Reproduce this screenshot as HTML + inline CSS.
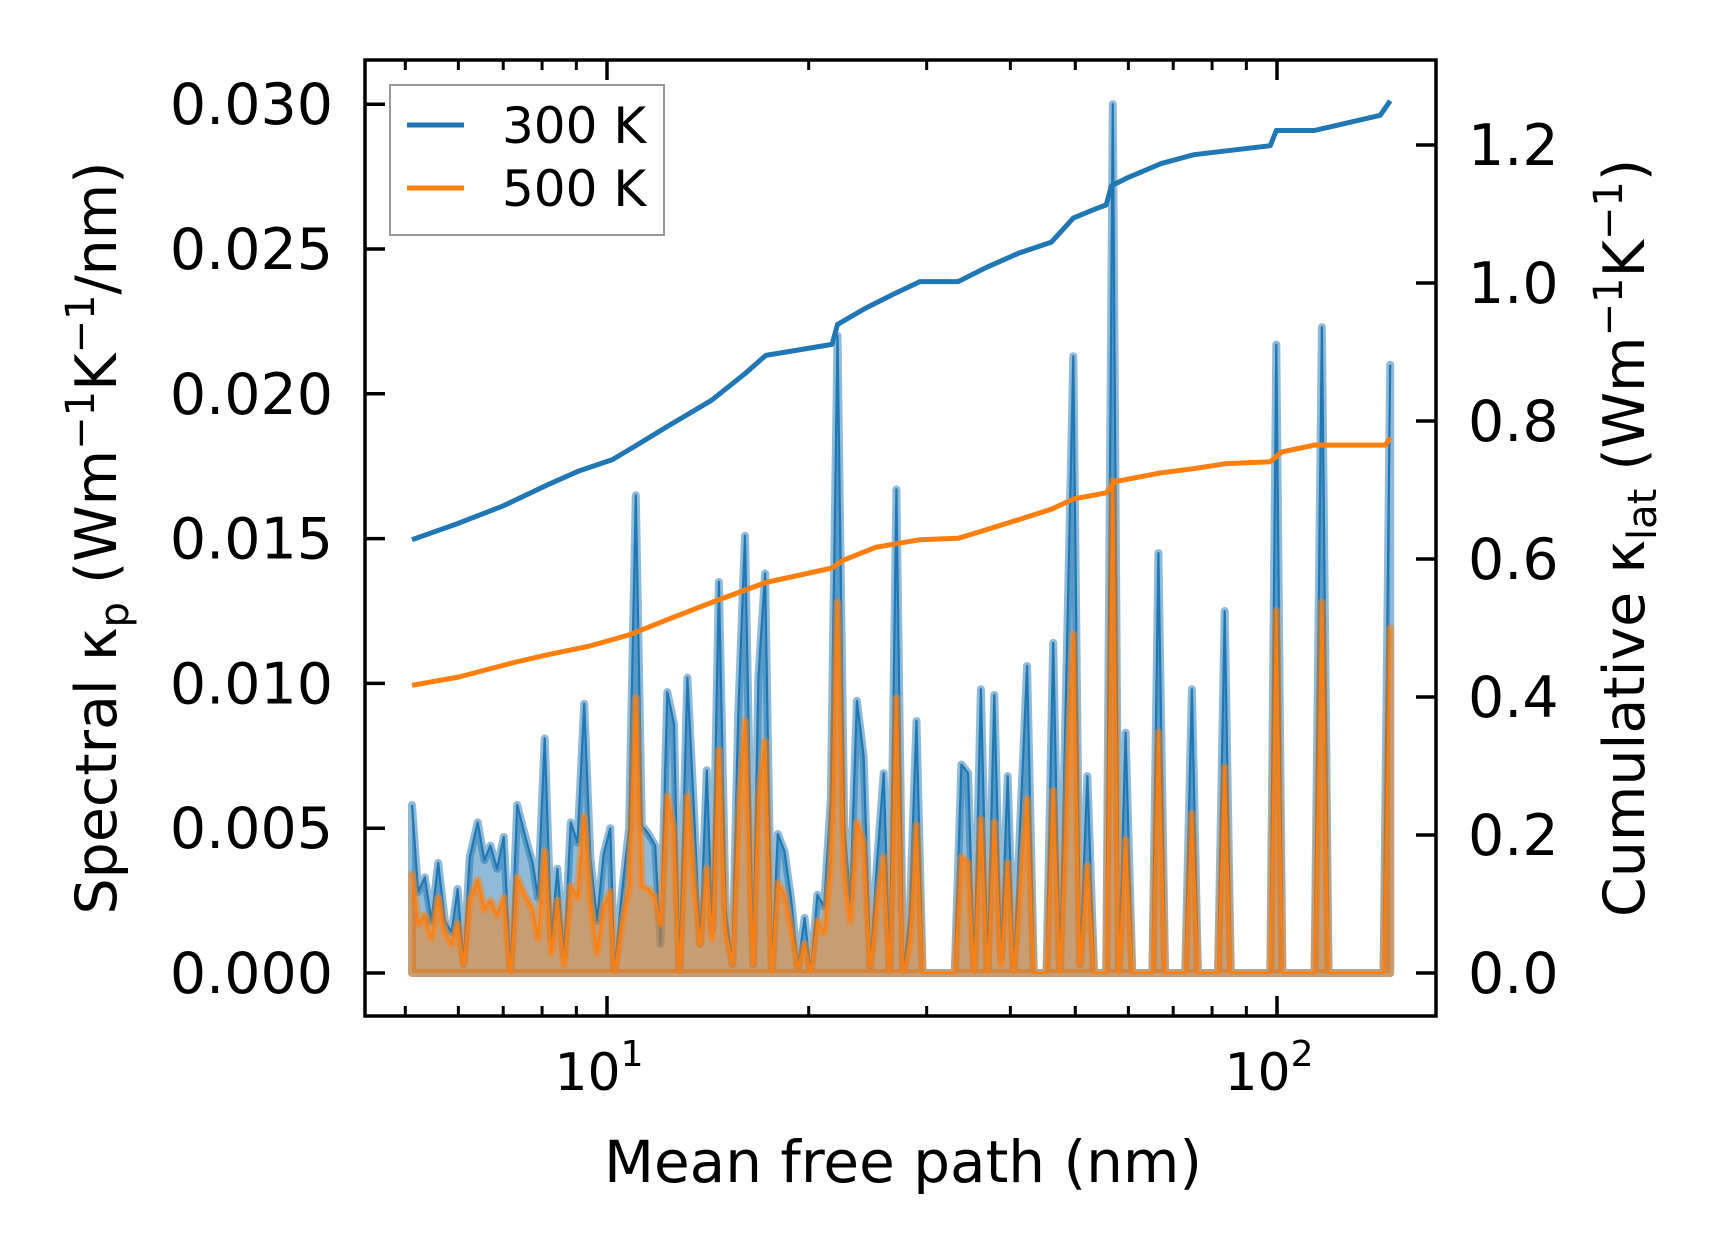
<!DOCTYPE html>
<html><head><meta charset="utf-8"><style>
html,body{margin:0;padding:0;background:#fff;}
svg{display:block;font-family:"DejaVu Sans","Liberation Sans",sans-serif;}
</style></head><body>
<svg id="chart" width="1716" height="1254" viewBox="0 0 1716 1254" xmlns="http://www.w3.org/2000/svg">
<rect width="1716" height="1254" fill="#fff"/>
<g id="plot"></g>
<g id="axes"></g>
<g>
<rect x="390" y="85" width="274" height="150" fill="#fff" fill-opacity="0.8" stroke="#999" stroke-width="2"/>
<line x1="407" y1="125" x2="464" y2="125" stroke="#1f77b4" stroke-width="5"/>
<text x="502" y="143" font-size="50">300 K</text>
<line x1="407" y1="188" x2="464" y2="188" stroke="#ff7f0e" stroke-width="5"/>
<text x="502" y="206" font-size="50">500 K</text>
</g>
<text x="903" y="1182" font-size="58" text-anchor="middle">Mean free path (nm)</text>
<text transform="translate(116,538) rotate(-90)" font-size="57" text-anchor="middle">Spectral κ<tspan font-size="40" dy="12">p</tspan><tspan dy="-12"> (Wm</tspan><tspan font-size="40" dy="-22">−1</tspan><tspan dy="22">K</tspan><tspan font-size="40" dy="-22">−1</tspan><tspan dy="22">/nm)</tspan></text>
<text transform="translate(1644,538) rotate(-90)" font-size="57" text-anchor="middle">Cumulative κ<tspan font-size="40" dy="12">lat</tspan><tspan dy="-12"> (Wm</tspan><tspan font-size="40" dy="-22">−1</tspan><tspan dy="22">K</tspan><tspan font-size="40" dy="-22">−1</tspan><tspan dy="22">)</tspan></text>
</svg>
<script>
// log10 of mean free path (nm) for spectral samples
const specLog = [0.709,0.718,0.728,0.738,0.748,0.758,0.768,0.777,0.786,0.795,0.807,0.817,0.826,0.836,0.846,0.856,0.866,0.877,0.889,0.897,0.907,0.917,0.926,0.936,0.946,0.956,0.966,0.975,0.985,0.995,1.005,1.011,1.021,1.033,1.043,1.052,1.062,1.072,1.080,1.090,1.100,1.108,1.120,1.129,1.139,1.149,1.157,1.167,1.177,1.187,1.196,1.206,1.218,1.226,1.236,1.246,1.255,1.265,1.275,1.285,1.295,1.304,1.314,1.324,1.334,1.344,1.354,1.363,1.373,1.383,1.393,1.403,1.413,1.422,1.432,1.442,1.452,1.462,1.471,1.519,1.529,1.539,1.548,1.558,1.568,1.578,1.588,1.598,1.607,1.627,1.637,1.656,1.666,1.676,1.696,1.706,1.717,1.727,1.745,1.755,1.764,1.774,1.784,1.814,1.823,1.833,1.863,1.873,1.882,1.912,1.922,1.931,1.990,1.999,2.008,2.056,2.067,2.077,2.159,2.169];
// spectral kappa in units of 1e-3 W/mK/nm
const spec300 = [5.8,2.8,3.3,1.8,3.8,1.8,1.4,2.9,0.3,4.0,5.2,3.9,4.4,3.6,4.7,0.0,5.8,4.8,3.8,2.6,8.1,1.2,3.6,0.6,5.2,4.5,9.3,4.0,1.8,4.1,5.0,0.0,2.5,5.0,16.5,5.1,4.8,4.4,1.0,9.7,8.6,0.0,10.2,6.0,1.0,7.0,1.5,13.5,2.2,0.3,9.0,15.1,0.3,10.2,13.8,0.0,4.8,4.2,2.5,0.2,1.9,0.0,2.7,2.3,6.0,22.0,5.1,2.5,9.4,7.5,0.2,3.8,6.9,0.0,16.7,0.0,2.0,8.7,0.0,0.0,7.2,6.9,0.0,9.8,0.0,9.6,0.5,6.8,0.0,10.6,0.0,0.0,11.4,0.0,21.3,0.3,6.8,0.0,0.0,30.0,0.0,8.3,0.0,0.0,14.5,0.0,0.0,9.8,0.0,0.0,12.5,0.0,0.0,21.7,0.0,0.0,22.3,0.0,0.0,21.0];
const spec500 = [3.4,1.7,2.0,1.2,2.6,1.4,1.0,1.7,0.3,2.5,3.2,2.2,2.5,2.0,2.6,0.0,3.3,2.7,2.2,1.2,4.2,0.7,2.5,0.3,3.0,2.6,5.4,2.5,0.7,2.3,2.8,0.0,1.5,3.0,9.5,3.0,2.9,2.6,1.7,6.1,4.9,0.0,6.1,3.3,1.0,3.6,1.2,7.7,1.5,0.3,5.2,8.7,0.3,6.0,8.0,0.0,3.1,2.7,1.5,0.2,1.0,0.0,1.8,1.4,3.7,12.8,3.5,1.8,5.2,4.5,0.2,2.4,4.0,0.0,9.5,0.0,1.0,5.1,0.0,0.0,4.0,3.8,0.0,5.3,0.0,5.2,0.3,3.8,0.0,6.0,0.0,0.0,6.3,0.0,11.7,0.3,3.7,0.0,0.0,17.0,0.0,4.6,0.0,0.0,8.3,0.0,0.0,5.5,0.0,0.0,7.1,0.0,0.0,12.5,0.0,0.0,12.8,0.0,0.0,11.9];
// cumulative kappa (W/mK)
const cum300Log = [0.709,0.779,0.845,0.910,0.959,1.008,1.041,1.090,1.156,1.205,1.237,1.336,1.344,1.385,1.426,1.467,1.524,1.565,1.614,1.663,1.696,1.728,1.745,1.753,1.778,1.827,1.876,1.990,1.999,2.056,2.154,2.169];
const cum300 = [0.628,0.652,0.677,0.707,0.728,0.744,0.763,0.792,0.830,0.868,0.895,0.911,0.940,0.963,0.983,1.002,1.002,1.022,1.043,1.059,1.094,1.107,1.113,1.141,1.153,1.173,1.186,1.199,1.221,1.221,1.243,1.264];
const cum500Log = [0.709,0.779,0.861,0.910,0.975,1.033,1.090,1.156,1.237,1.336,1.352,1.401,1.467,1.524,1.565,1.614,1.663,1.696,1.745,1.758,1.827,1.876,1.922,1.990,2.007,2.056,2.162,2.169];
const cum500 = [0.417,0.429,0.450,0.461,0.474,0.490,0.512,0.537,0.566,0.587,0.598,0.617,0.628,0.630,0.642,0.657,0.672,0.687,0.696,0.712,0.725,0.731,0.738,0.741,0.755,0.765,0.765,0.776];
const leftTicks = ["0.000","0.005","0.010","0.015","0.020","0.025","0.030"];
const rightTicks = ["0.0","0.2","0.4","0.6","0.8","1.0","1.2"];

const L=365,R=1436,T=60,B=1016;
const X0=607, DEC=670;
function xs(e){return X0+(e-1)*DEC;}
function yl(v){return 973 - v/0.005*144.8;} // v in W/mK/nm
function yr(v){return 973 - v*690;}
const NS='http://www.w3.org/2000/svg';
function mk(tag,attrs,parent){const el=document.createElementNS(NS,tag);for(const k in attrs)el.setAttribute(k,attrs[k]);parent.appendChild(el);return el;}
const plot=document.getElementById('plot'), axes=document.getElementById('axes');

function spectral(vals,color,name){
  let pts=specLog.map((e,i)=>xs(e).toFixed(1)+','+yl(vals[i]/1000).toFixed(1));
  let area='M'+xs(specLog[0])+','+yl(0)+' L'+pts.join(' L')+' L'+xs(specLog[specLog.length-1])+','+yl(0)+' Z';
  const a=mk('path',{d:area,fill:color,'fill-opacity':0.5,stroke:color,'stroke-opacity':0.5,'stroke-width':8,'stroke-linejoin':'round'},plot);
  
  
  const l=mk('path',{d:'M'+pts.join(' L'),fill:'none',stroke:color,'stroke-width':2.2,'stroke-linejoin':'round'},plot);
  
  
}
spectral(spec300,'#1f77b4','spectral-300k');
spectral(spec500,'#ff7f0e','spectral-500k');

function cum(lg,vals,color,name){
  const d='M'+lg.map((e,i)=>xs(e).toFixed(1)+','+yr(vals[i]).toFixed(1)).join(' L');
  const p=mk('path',{d:d,fill:'none',stroke:color,'stroke-width':5,'stroke-linejoin':'round'},plot);
  
  
}
cum(cum300Log,cum300,'#1f77b4','cumulative-300k');
cum(cum500Log,cum500,'#ff7f0e','cumulative-500k');

const frame=mk('rect',{x:L,y:T,width:R-L,height:B-T,fill:'none',stroke:'#000','stroke-width':3.5},axes);



leftTicks.forEach((t,i)=>{
  const y=yl(i*0.005);
  const tk=mk('line',{x1:L,y1:y,x2:L+20,y2:y,stroke:'#000','stroke-width':3.5},axes);
  
  
  const tx=mk('text',{x:333,y:y+20,'font-size':57,'text-anchor':'end'},axes);
  tx.textContent=t;
  
  
});
rightTicks.forEach((t,i)=>{
  const y=yr(i*0.2);
  const tk=mk('line',{x1:R-20,y1:y,x2:R,y2:y,stroke:'#000','stroke-width':3.5},axes);
  
  
  const tx=mk('text',{x:1468,y:y+20,'font-size':57},axes);
  tx.textContent=t;
  
  
});
const minors=[5,6,7,8,9,20,30,40,50,60,70,80,90];
minors.forEach(m=>{
  const x=xs(Math.log10(m));
  [[B,B-10],[T,T+10]].forEach(pr=>{
    const tk=mk('line',{x1:x,y1:pr[0],x2:x,y2:pr[1],stroke:'#000','stroke-width':3},axes);
    
    
  });
});
[1,2].forEach(k=>{
  const x=xs(k);
  [[B,B-20],[T,T+20]].forEach(pr=>{
    const tk=mk('line',{x1:x,y1:pr[0],x2:x,y2:pr[1],stroke:'#000','stroke-width':3.5},axes);
    
    
  });
  const tx=mk('text',{x:x-8,y:1090,'font-size':52,'text-anchor':'middle'},axes);
  tx.textContent='10';
  const sp=mk('tspan',{'font-size':36,dy:-24},tx);
  sp.textContent=String(k);
  
  
});
</script>
</body></html>
